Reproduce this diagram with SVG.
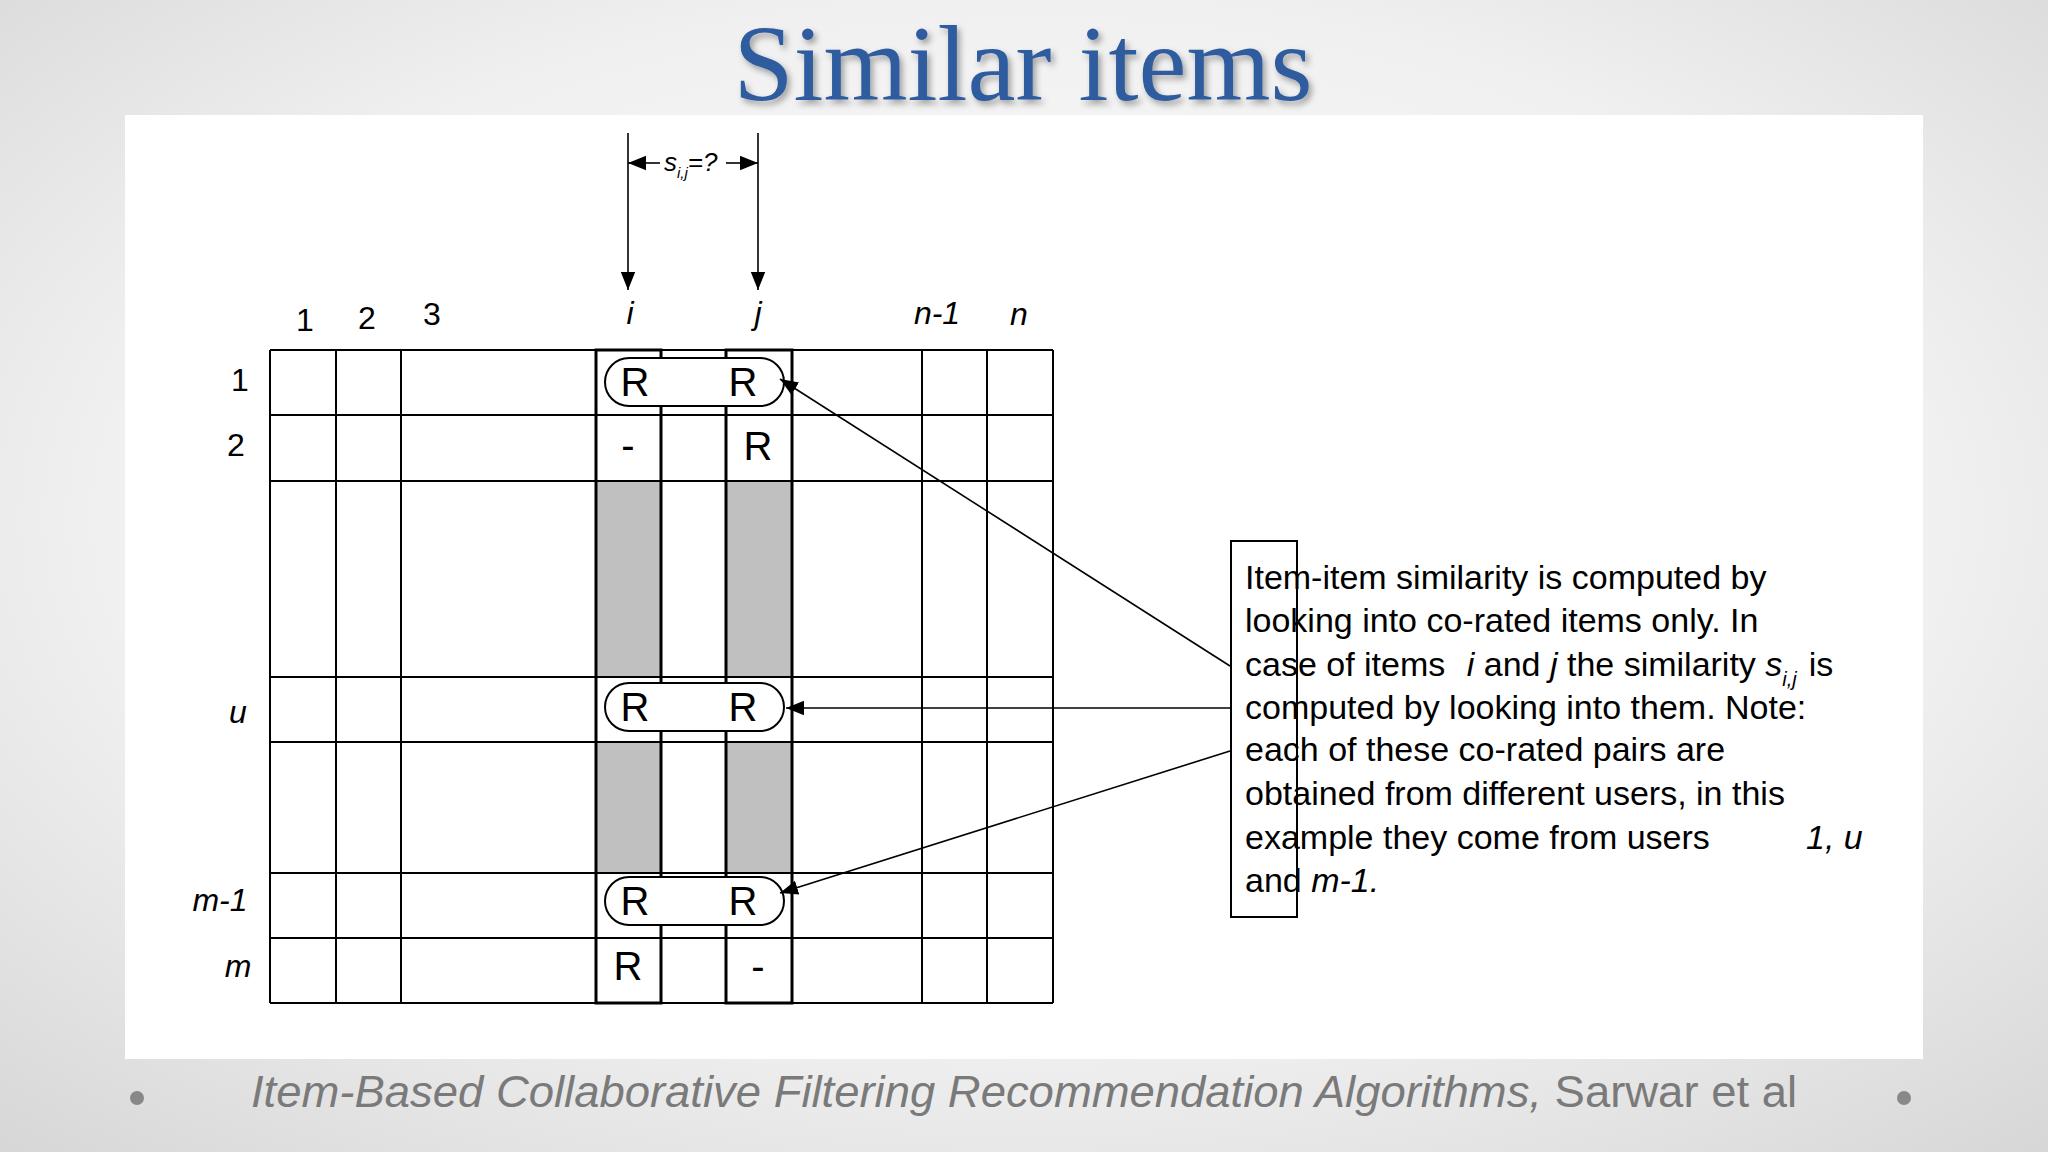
<svg xmlns="http://www.w3.org/2000/svg" width="2048" height="1152" viewBox="0 0 2048 1152">
<defs>
<radialGradient id="bg" cx="50%" cy="45%" r="75%"><stop offset="0" stop-color="#ffffff"/><stop offset="0.6" stop-color="#f0f0f0"/><stop offset="1" stop-color="#d6d6d6"/></radialGradient>
<filter id="sh" x="-10%" y="-10%" width="120%" height="130%"><feDropShadow dx="3" dy="4" stdDeviation="3" flood-color="#000" flood-opacity="0.35"/></filter>
<marker id="ah" viewBox="0 0 10 10" refX="10" refY="5" markerWidth="9" markerHeight="9" markerUnits="userSpaceOnUse" orient="auto"><path d="M0,0 L10,5 L0,10 z" fill="#000"/></marker>
<marker id="ahb" viewBox="0 0 10 10" refX="10" refY="5" markerWidth="18" markerHeight="18" markerUnits="userSpaceOnUse" orient="auto"><path d="M0,1 L10,5 L0,9 z" fill="#000"/></marker>
</defs>
<style>
.g{stroke:#000;stroke-width:2;fill:none}
.t{font-family:"Liberation Sans",Arial,sans-serif;fill:#000}
.i{font-style:italic}
.c{stroke:#000;stroke-width:1.6;fill:none}
.cap{fill:#fff;stroke:#000;stroke-width:2}
</style>
<rect width="2048" height="1152" fill="url(#bg)"/>
<rect x="125" y="115" width="1798" height="944" fill="#fff"/>
<text x="1023" y="100" text-anchor="middle" font-family="Liberation Serif,serif" font-size="108" fill="#2e5c9e" filter="url(#sh)">Similar items</text>

<g id="grid">
<rect x="596" y="481" width="65" height="196" fill="#c0c0c0"/>
<rect x="726" y="481" width="66" height="196" fill="#c0c0c0"/>
<rect x="596" y="742" width="65" height="131" fill="#c0c0c0"/>
<rect x="726" y="742" width="66" height="131" fill="#c0c0c0"/>
<path class="g" d="M270,350H1053M270,415H1053M270,481H1053M270,677H1053M270,742H1053M270,873H1053M270,938H1053M270,1003H1053M270,350V1003M336,350V1003M401,350V1003M596,350V1003M661,350V1003M726,350V1003M792,350V1003M922,350V1003M987,350V1003M1053,350V1003"/>
<rect x="596" y="350" width="65" height="653" fill="none" stroke="#000" stroke-width="3"/>
<rect x="726" y="350" width="66" height="653" fill="none" stroke="#000" stroke-width="3"/>
</g>

<g id="labels" class="t" font-size="32">
<text x="305" y="331" text-anchor="middle">1</text>
<text x="367" y="329" text-anchor="middle">2</text>
<text x="432" y="325" text-anchor="middle">3</text>
<text x="630" y="324" text-anchor="middle" class="i">i</text>
<text x="758" y="324" text-anchor="middle" class="i">j</text>
<text x="937" y="324" text-anchor="middle" class="i">n-1</text>
<text x="1019" y="325" text-anchor="middle" class="i">n</text>
<text x="240" y="391" text-anchor="middle">1</text>
<text x="236" y="456" text-anchor="middle">2</text>
<text x="238" y="723" text-anchor="middle" class="i">u</text>
<text x="220" y="911" text-anchor="middle" class="i">m-1</text>
<text x="238" y="977" text-anchor="middle" class="i">m</text>
</g>

<g id="cells" class="t" font-size="40">
<rect class="cap" x="605" y="358" width="179" height="48" rx="24"/>
<rect class="cap" x="605" y="683" width="179" height="48" rx="24"/>
<rect class="cap" x="605" y="877" width="179" height="48" rx="24"/>
<text x="635" y="396" text-anchor="middle">R</text><text x="743" y="396" text-anchor="middle">R</text>
<text x="628" y="459" text-anchor="middle">-</text><text x="758" y="460" text-anchor="middle">R</text>
<text x="635" y="721" text-anchor="middle">R</text><text x="743" y="721" text-anchor="middle">R</text>
<text x="635" y="915" text-anchor="middle">R</text><text x="743" y="915" text-anchor="middle">R</text>
<text x="628" y="980" text-anchor="middle">R</text><text x="758" y="980" text-anchor="middle">-</text>
</g>

<g id="note">
<rect x="1231" y="541" width="66" height="376" fill="none" stroke="#000" stroke-width="2"/>
<g class="t" font-size="34">
<text x="1245" y="589">Item-item similarity is computed by</text>
<text x="1245" y="632">looking into co-rated items only. In</text>
<text x="1245" y="676">case of items  <tspan class="i" dx="12">i</tspan> and <tspan class="i">j</tspan> the similarity  <tspan class="i">s</tspan><tspan class="i" font-size="20" dy="10">i,j</tspan><tspan dy="-10" dx="12">is</tspan></text>
<text x="1245" y="719">computed by looking into them. Note:</text>
<text x="1245" y="761">each of these co-rated pairs are</text>
<text x="1245" y="805">obtained from different users, in this</text>
<text x="1245" y="849">example they come from users<tspan class="i" x="1806">1, u</tspan></text>
<text x="1245" y="892">and  <tspan class="i">m-1.</tspan></text>
</g>
</g>

<g id="connectors">
<path class="c" d="M628,133V290" marker-end="url(#ahb)"/>
<path class="c" d="M758,133V290" marker-end="url(#ahb)"/>
<path class="c" d="M660,163H628" marker-end="url(#ahb)"/>
<path class="c" d="M726,163H758" marker-end="url(#ahb)"/>
<path class="c" d="M1230,666L780,379" marker-end="url(#ahb)"/>
<path class="c" d="M1230,708L786,708" marker-end="url(#ahb)"/>
<path class="c" d="M1230,751L780,893" marker-end="url(#ahb)"/>
<text class="t i" x="664" y="171" font-size="26">s<tspan font-size="15" dy="7">i,j</tspan><tspan dy="-7">=?</tspan></text>
</g>

<g id="footer">
<circle cx="137" cy="1098" r="7" fill="#888"/>
<circle cx="1904" cy="1098" r="7" fill="#888"/>
<text x="1024" y="1107" text-anchor="middle" font-family="Liberation Sans,Arial,sans-serif" font-size="44" fill="#7a7a7a" textLength="1546" lengthAdjust="spacingAndGlyphs"><tspan font-style="italic">Item-Based Collaborative Filtering Recommendation Algorithms,</tspan> Sarwar et al</text>
</g>
</svg>
